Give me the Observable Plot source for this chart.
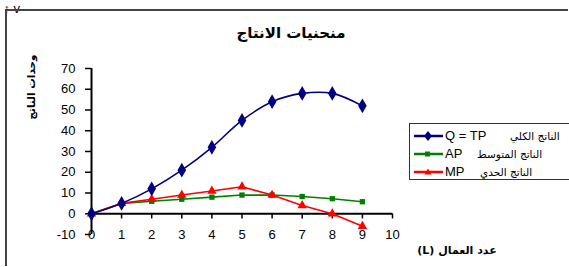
<!DOCTYPE html>
<html><head><meta charset="utf-8">
<script src="https://cdn.jsdelivr.net/npm/d3@7"></script>
<script src="https://cdn.jsdelivr.net/npm/@observablehq/plot@0.6"></script>
<style>
html,body{margin:0;padding:0;background:#fff}
#wrap{position:relative;width:569px;height:267px;overflow:hidden;font-family:"Liberation Sans",Arial,sans-serif;color:#000}
#border{position:absolute;left:0;top:0;z-index:10}
.ar{font-family:"DejaVu Sans",sans-serif;font-weight:bold;direction:rtl;white-space:nowrap;position:absolute}
#title{left:291px;top:33px;transform:translate(-50%,-50%);font-size:15px}
#ylab{left:31px;top:87px;transform:translate(-50%,-50%) rotate(-90deg);font-size:10.5px}
#xlab{left:457px;top:250px;transform:translate(-50%,-50%);font-size:11px}
#legend{position:absolute;left:409px;top:123px;width:170px;height:55px;border:1.5px solid #333;background:#fff}
.row{position:absolute;left:0;height:16px;width:170px}
.row svg{position:absolute;left:3px;top:0}
.lat{position:absolute;left:35px;top:0;font-size:13px;line-height:16px}
.row .ar{font-size:10.5px;line-height:16px;top:0;font-weight:normal}
</style></head><body>
<div id="wrap"><svg id="border" width="569" height="267"><path d="M6,266V10H568" fill="none" stroke="#444" stroke-width="2"/></svg></div>
<script>
const labor = [0,1,2,3,4,5,6,7,8,9];
const tp = [0,5,12,21,32,45,54,58,58,52];
const ap = [0,5,6,7,8,9,9,8.3,7.25,5.8];
const mp = [0,5,7,9,11,13,9,4,0,-6];
const xTicks = [0,1,2,3,4,5,6,7,8,9,10];
const yTicks = [-10,0,10,20,30,40,50,60,70];
const seriesLatin = ["Q = TP","AP","MP"];
const seriesArabic = ["الناتج الكلي","الناتج المتوسط","الناتج الحدي"];
const seriesColors = ["#000080","#008000","#ff0000"];
const seriesSymbols = ["diamond","square","triangle"];
const titleText = "منحنيات الانتاج";
const yLabel = "وحدات الناتج";
const xLabel = "عدد العمال (L)";

const rows = (vals) => labor.map((L,i)=>({L, v: vals[i]}));
const dTP = rows(tp), dAP = rows(ap), dMP = rows(mp);

const chart = Plot.plot({
  width: 569, height: 267,
  marginLeft: 91, marginRight: 177, marginTop: 68, marginBottom: 33,
  x: {domain: [0,10], axis: null},
  y: {domain: [-10,70], axis: null},
  style: {fontFamily: '"Liberation Sans",Arial,sans-serif', fontSize: "13px", color: "#000", background: "transparent"},
  marks: [
    Plot.axisY({ticks: yTicks, tickSize: 6, tickPadding: 10, tickFormat: d => String(d), fontSize: 13, stroke: "#000", strokeWidth: 1.5}),
    Plot.ruleX([0], {y1: -10, y2: 70, stroke: "#000", strokeWidth: 2}),
    Plot.ruleY([0], {x1: 0, x2: 10, stroke: "#000", strokeWidth: 2}),
    Plot.ruleX(xTicks, {x: d => d, y1: 0, y2: -2.5, stroke: "#000", strokeWidth: 1.5}),
    Plot.text(xTicks, {x: d => d, y: -10, text: d => String(d), fontSize: 13, fill: "#000"}),
    Plot.line(dAP, {x: "L", y: "v", stroke: seriesColors[1], strokeWidth: 1.6}),
    Plot.dot(dAP, {x: "L", y: "v", symbol: seriesSymbols[1], fill: seriesColors[1], r: 3}),
    Plot.line(dMP, {x: "L", y: "v", stroke: seriesColors[2], strokeWidth: 1.6}),
    Plot.dot(dMP, {x: "L", y: "v", symbol: seriesSymbols[2], fill: seriesColors[2], r: 3.5}),
    Plot.line(dTP, {x: "L", y: "v", stroke: seriesColors[0], strokeWidth: 1.6, curve: "catmull-rom"}),
    Plot.dot(dTP, {x: "L", y: "v", symbol: seriesSymbols[0], fill: seriesColors[0], r: 4.5})
  ]
});
chart.style.position = "absolute";
chart.style.left = "0px";
chart.style.top = "0px";
const wrap = document.getElementById("wrap");
wrap.insertBefore(chart, wrap.firstChild);

function addText(id, txt){
  const d = document.createElement("div");
  d.className = "ar"; d.id = id; d.textContent = txt;
  wrap.appendChild(d);
}
addText("title", titleText);
addText("ylab", yLabel);
addText("xlab", xLabel);

const legend = document.createElement("div");
legend.id = "legend";
const arLeft = [100, 67, 70];
const shapes = {
  diamond: (c) => `<path d="M15,3 L19,8 L15,13 L11,8 Z" fill="${c}"/>`,
  square: (c) => `<rect x="12" y="5.5" width="5" height="5" fill="${c}"/>`,
  triangle: (c) => `<path d="M15,4.5 L18.5,10.5 L11.5,10.5 Z" fill="${c}"/>`
};
seriesLatin.forEach((name, i) => {
  const r = document.createElement("div");
  r.className = "row";
  r.style.top = (4 + i*18) + "px";
  r.innerHTML = `<svg width="32" height="16"><line x1="1" y1="8" x2="30" y2="8" stroke="${seriesColors[i]}" stroke-width="2.5"/>${shapes[seriesSymbols[i]](seriesColors[i])}</svg>` +
    `<span class="lat">${name}</span><span class="ar" style="left:${arLeft[i]}px">${seriesArabic[i]}</span>`;
  legend.appendChild(r);
});
wrap.appendChild(legend);
</script>
</body></html>
